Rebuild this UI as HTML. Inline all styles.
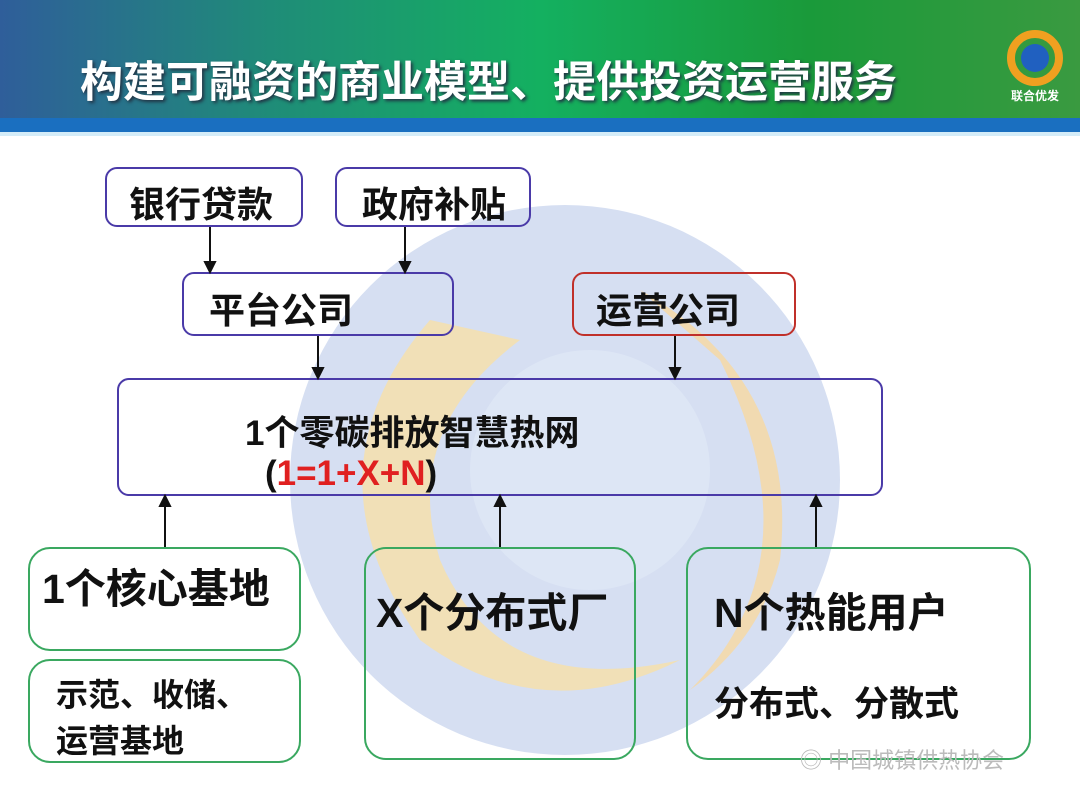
<!DOCTYPE html>
<html><head><meta charset="utf-8"><style>
body{margin:0;width:1080px;height:810px;overflow:hidden;background:#fff;position:relative;font-family:"Liberation Sans","Noto Sans CJK SC",sans-serif;}
.hdr{position:absolute;left:0;top:0;width:1080px;height:118px;background:linear-gradient(90deg,#2f5e9a 0%,#1f8c78 25%,#14b060 50%,#1a9a3a 75%,#3a9a40 100%);}
.band{position:absolute;left:0;top:118px;width:1080px;height:14px;background:#1a6fc0;}
.band2{position:absolute;left:0;top:132px;width:1080px;height:4px;background:#d4ecf8;}
.title{position:absolute;left:80px;top:48px;color:#fff;font-size:43px;font-weight:bold;text-shadow:2px 2px 3px #234;}
.box{position:absolute;box-sizing:border-box;border:2px solid;border-radius:12px;font-weight:bold;color:#111;}
.p{border-color:#4a3aa8;}.r{border-color:#c0302a;}.g{border-color:#3aa860;border-radius:22px;}
.t{position:absolute;white-space:nowrap;line-height:1;}
</style></head><body>
<div class="hdr"></div><div class="band"></div><div class="band2"></div>
<div class="title">构建可融资的商业模型、提供投资运营服务</div>
<svg style="position:absolute;left:1005px;top:28px" width="60" height="80"><circle cx="30" cy="30" r="24" fill="none" stroke="#f0a020" stroke-width="8"/><circle cx="30" cy="30" r="14" fill="#2060c0"/><text x="30" y="72" font-size="12" fill="#fff" text-anchor="middle" font-weight="bold" font-family="Noto Sans CJK SC">联合优发</text></svg>
<svg style="position:absolute;left:0;top:0" width="1080" height="810">
<circle cx="565" cy="480" r="275" fill="#c8d4ee" opacity="0.75"/>
<path d="M430 320 Q300 470 420 640 Q540 730 680 660 Q500 700 440 560 Q400 430 520 340 Z" fill="#f8e0a8" opacity="0.8"/>
<path d="M640 290 Q800 380 780 560 Q760 640 690 690 Q820 560 720 360 Z" fill="#f8d8a0" opacity="0.8"/>
<circle cx="590" cy="470" r="120" fill="#dfe8f6" opacity="0.7"/>
</svg>
<div class="box p" style="left:105px;top:167px;width:198px;height:60px"><span class="t" style="left:22px;top:18px;font-size:36px">银行贷款</span></div>
<div class="box p" style="left:335px;top:167px;width:196px;height:60px"><span class="t" style="left:25px;top:18px;font-size:36px">政府补贴</span></div>
<div class="box p" style="left:182px;top:272px;width:272px;height:64px"><span class="t" style="left:25px;top:19px;font-size:36px">平台公司</span></div>
<div class="box r" style="left:572px;top:272px;width:224px;height:64px"><span class="t" style="left:22px;top:19px;font-size:36px">运营公司</span></div>
<div class="box p" style="left:117px;top:378px;width:766px;height:118px"><span class="t" style="left:126px;top:36px;font-size:35px">1个零碳排放智慧热网</span><span class="t" style="left:146px;top:76px;font-size:35px">(<span style="color:#e02020">1=1+X+N</span>)</span></div>
<div class="box g" style="left:28px;top:547px;width:273px;height:104px"><span class="t" style="left:12px;top:20px;font-size:41px">1个核心基地</span></div>
<div class="box g" style="left:28px;top:659px;width:273px;height:104px"><span class="t" style="left:26px;top:11px;font-size:32px;line-height:46px">示范、收储、<br>运营基地</span></div>
<div class="box g" style="left:364px;top:547px;width:272px;height:213px"><span class="t" style="left:10px;top:44px;font-size:41px">X个分布式厂</span></div>
<div class="box g" style="left:686px;top:547px;width:345px;height:213px"><span class="t" style="left:26px;top:44px;font-size:41px">N个热能用户</span><span class="t" style="left:26px;top:138px;font-size:35px">分布式、分散式</span></div>
<svg style="position:absolute;left:0;top:0" width="1080" height="810" fill="#111" stroke="#111" stroke-width="2">
<line x1="210" y1="227" x2="210" y2="264"/><path d="M205 262 L210 272 L215 262Z"/>
<line x1="405" y1="227" x2="405" y2="264"/><path d="M400 262 L405 272 L410 262Z"/>
<line x1="318" y1="336" x2="318" y2="370"/><path d="M313 368 L318 378 L323 368Z"/>
<line x1="675" y1="336" x2="675" y2="370"/><path d="M670 368 L675 378 L680 368Z"/>
<line x1="165" y1="547" x2="165" y2="504"/><path d="M160 506 L165 496 L170 506Z"/>
<line x1="500" y1="547" x2="500" y2="504"/><path d="M495 506 L500 496 L505 506Z"/>
<line x1="816" y1="547" x2="816" y2="504"/><path d="M811 506 L816 496 L821 506Z"/>
</svg>
<div class="t" style="left:800px;top:750px;font-size:22px;color:#bbb">◎ 中国城镇供热协会</div>
</body></html>
